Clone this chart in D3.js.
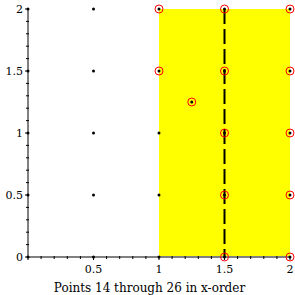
<!DOCTYPE html>
<html><head><meta charset="utf-8">
<script src="https://cdn.jsdelivr.net/npm/d3@7"></script>
<style>body{margin:0;background:#fff}svg{display:block}</style>
</head><body>
<svg id="c" width="295" height="295"></svg>
<script>
const gridX = [0, 0.5, 1, 1.5, 2];
const gridY = [0, 0.5, 1, 1.5, 2];
const extraX = [1.25];
const extraY = [1.25];
const highlightFrom = 14, highlightTo = 26;
const regionX = [1, 2];
const splitX = 1.5;
const majorTicks = [0.5, 1, 1.5, 2];
const yTicks = [0, 0.5, 1, 1.5, 2];
const title = "Points 14 through 26 in x-order";

const pts = [];
gridX.forEach(x => gridY.forEach(y => pts.push({x, y})));
extraX.forEach((x, i) => pts.push({x, y: extraY[i]}));
pts.sort((a, b) => a.x - b.x || a.y - b.y);

const svg = d3.select("#c");
const x = d3.scaleLinear().domain([0, 2]).range([28, 290]);
const y = d3.scaleLinear().domain([0, 2]).range([257, 9]);

svg.append("rect").attr("x", x(regionX[0])).attr("y", y(2))
  .attr("width", x(regionX[1]) - x(regionX[0])).attr("height", y(0) - y(2))
  .attr("fill", "#ffff00");

svg.append("line").attr("x1", x(0)).attr("x2", x(2)).attr("y1", y(0)).attr("y2", y(0))
  .attr("stroke", "#808080").attr("stroke-width", 2);
svg.append("line").attr("x1", x(0)).attr("x2", x(0)).attr("y1", y(0)).attr("y2", y(2))
  .attr("stroke", "#808080").attr("stroke-width", 2);

const minor = d3.range(0, 21).map(i => i / 10);
const isMajor = d => Math.abs(d * 2 - Math.round(d * 2)) < 1e-9;
svg.append("g").selectAll("line").data(minor).join("line")
  .attr("x1", d => x(d)).attr("x2", d => x(d))
  .attr("y1", y(0) - 1).attr("y2", d => y(0) + (isMajor(d) ? 3 : 2))
  .attr("stroke", "#000").attr("stroke-width", 1);
svg.append("g").selectAll("line").data(minor).join("line")
  .attr("y1", d => y(d)).attr("y2", d => y(d))
  .attr("x1", d => x(0) - (isMajor(d) ? 3 : 2)).attr("x2", x(0) + 1)
  .attr("stroke", "#000").attr("stroke-width", 1);

svg.append("g").selectAll("text").data(majorTicks).join("text")
  .attr("x", d => x(d)).attr("y", y(0) + 16).attr("text-anchor", "middle")
  .attr("font-family", "DejaVu Serif").attr("font-size", 11).text(d => d);
svg.append("g").selectAll("text").data(yTicks).join("text")
  .attr("x", x(0) - 5).attr("y", d => y(d) + 4).attr("text-anchor", "end")
  .attr("font-family", "DejaVu Serif").attr("font-size", 11).text(d => d);

svg.append("line").attr("x1", x(splitX)).attr("x2", x(splitX)).attr("y1", y(2)).attr("y2", y(0))
  .attr("stroke", "#000").attr("stroke-width", 2).attr("stroke-dasharray", "15,5");

svg.append("g").selectAll("circle").data(pts.filter((d, i) => i + 1 >= highlightFrom && i + 1 <= highlightTo)).join("circle")
  .attr("cx", d => x(d.x)).attr("cy", d => y(d.y)).attr("r", 4)
  .attr("fill", "none").attr("stroke", "#ff0000").attr("stroke-width", 1);
svg.append("g").selectAll("circle").data(pts).join("circle")
  .attr("cx", d => x(d.x)).attr("cy", d => y(d.y)).attr("r", 1.5).attr("fill", "#000");

svg.append("text").attr("x", 149.5).attr("y", 292).attr("text-anchor", "middle")
  .attr("font-family", "DejaVu Serif").attr("font-size", 12).text(title);
</script>
</body></html>
